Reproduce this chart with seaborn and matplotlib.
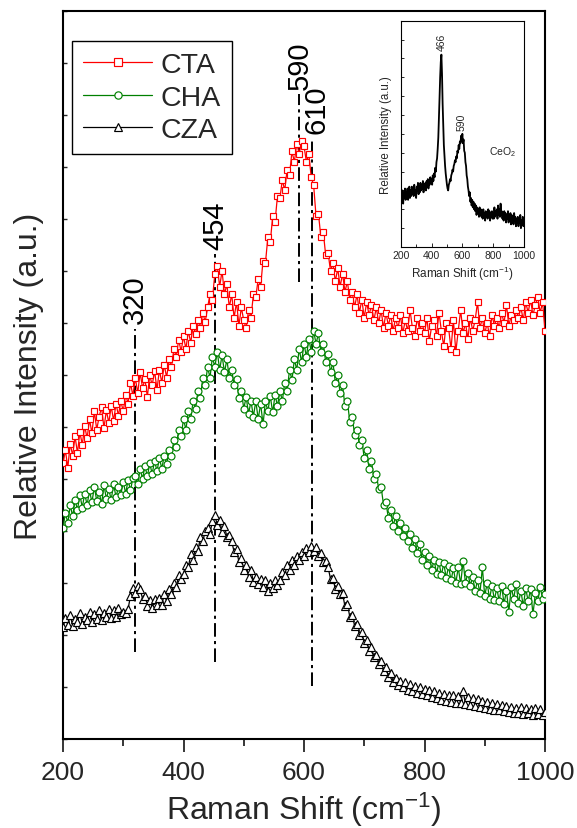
import matplotlib
matplotlib.use("Agg")
import matplotlib.pyplot as plt
import seaborn as sns
import numpy as np

# ---------------- data ----------------
shift = list(range(200, 1001, 4))  # Raman shift, cm^-1

cta = [5.30, 5.55, 5.22, 5.68, 5.45, 5.82, 5.50, 5.90, 5.66, 6.02,
       5.78, 6.15, 5.88, 6.30, 5.95, 6.20, 6.38, 5.98, 6.32, 6.08,
       6.40, 6.12, 6.45, 6.22, 6.50, 6.30, 6.62, 6.45, 6.85, 6.60,
       6.95, 6.65, 7.05, 6.75, 6.92, 6.58, 7.00, 6.80, 7.08, 6.72,
       7.10, 6.85, 7.20, 6.95, 7.30, 7.15, 7.50, 7.35, 7.68, 7.45,
       7.75, 7.50, 7.85, 7.62, 7.95, 7.78, 8.05, 7.90, 8.20, 8.02,
       8.30, 8.55, 8.45, 8.95, 9.10, 8.70, 9.00, 8.55, 8.75, 8.30,
       8.55, 8.10, 8.40, 7.95, 8.30, 8.05, 7.90, 8.25, 8.10, 8.55,
       8.50, 8.85, 8.70, 9.20, 9.15, 9.65, 9.55, 10.05, 9.95, 10.45,
       10.40, 10.75, 10.55, 10.95, 10.85, 11.30, 11.10, 11.45, 11.25, 11.50,
       11.40, 11.10, 11.25, 10.80, 10.65, 10.05, 10.10, 9.65, 9.75, 9.30,
       9.35, 9.00, 9.15, 8.80, 9.05, 8.70, 8.95, 8.60, 8.80, 8.45,
       8.60, 8.30, 8.55, 8.20, 8.45, 8.10, 8.40, 8.15, 8.35, 8.05,
       8.30, 8.00, 8.25, 7.90, 8.20, 7.95, 8.15, 7.85, 8.10, 7.90,
       8.15, 7.80, 8.05, 7.85, 8.25, 7.90, 7.75, 8.10, 7.85, 8.00,
       7.80, 8.10, 7.65, 7.95, 8.05, 7.75, 8.20, 7.85, 7.55, 8.00,
       7.90, 7.50, 8.05, 7.45, 7.85, 8.25, 7.80, 8.00, 7.70, 8.10,
       7.85, 8.05, 8.40, 7.90, 8.10, 7.80, 8.00, 7.75, 8.15, 7.95,
       8.10, 7.90, 8.20, 8.00, 8.35, 7.95, 8.15, 8.05, 8.25, 8.10,
       8.30, 8.05, 8.40, 8.20, 8.45, 8.15, 8.35, 8.50, 8.20, 8.40,
       7.85]

cha = [4.05, 4.35, 4.15, 4.50, 4.28, 4.60, 4.40, 4.70, 4.45, 4.72,
       4.50, 4.78, 4.55, 4.85, 4.58, 4.75, 4.52, 4.88, 4.62, 4.80,
       4.60, 4.90, 4.65, 4.85, 4.70, 4.95, 4.72, 4.98, 4.78, 5.02,
       5.05, 4.90, 5.20, 5.00, 5.25, 5.05, 5.30, 5.10, 5.35, 5.15,
       5.40, 5.20, 5.45, 5.28, 5.55, 5.45, 5.75, 5.62, 5.95, 5.82,
       6.15, 5.95, 6.30, 6.15, 6.50, 6.35, 6.70, 6.55, 6.95, 6.80,
       7.15, 6.95, 7.35, 7.15, 7.45, 7.10, 7.38, 7.05, 7.30, 6.95,
       7.10, 6.80, 6.92, 6.55, 6.70, 6.35, 6.58, 6.25, 6.50, 6.20,
       6.50, 6.15, 6.45, 6.05, 6.50, 6.30, 6.60, 6.28, 6.62, 6.40,
       6.70, 6.50, 6.85, 6.70, 7.10, 6.90, 7.30, 7.10, 7.50, 7.25,
       7.60, 7.35, 7.70, 7.45, 7.85, 7.60, 7.80, 7.45, 7.60, 7.25,
       7.40, 7.05, 7.25, 6.85, 7.00, 6.65, 6.80, 6.40, 6.50, 6.10,
       6.20, 5.85, 5.95, 5.65, 5.75, 5.40, 5.55, 5.20, 5.35, 5.00,
       5.10, 4.80, 4.85, 4.50, 4.55, 4.25, 4.40, 4.10, 4.28, 4.00,
       4.15, 3.90, 4.05, 3.80, 3.95, 3.68, 3.85, 3.58, 3.75, 3.45,
       3.60, 3.35, 3.52, 3.25, 3.45, 3.18, 3.40, 3.15, 3.38, 3.10,
       3.32, 3.05, 3.28, 3.00, 3.30, 2.98, 3.42, 3.00, 3.20, 2.95,
       3.12, 2.85, 3.05, 2.80, 3.30, 2.75, 3.00, 2.70, 2.95, 2.68,
       2.90, 2.65, 2.95, 2.60, 2.85, 2.45, 2.92, 2.70, 2.98, 2.62,
       2.85, 2.55, 2.90, 2.65, 2.88, 2.40, 2.80, 2.65, 2.92, 2.70,
       2.78]

cza = [2.15, 2.32, 2.20, 2.38, 2.18, 2.30, 2.25, 2.42, 2.22, 2.35,
       2.28, 2.45, 2.25, 2.40, 2.30, 2.48, 2.28, 2.42, 2.35, 2.50,
       2.32, 2.48, 2.35, 2.52, 2.40, 2.45, 2.42, 2.50, 2.75, 2.90,
       2.80, 2.95, 2.88, 2.70, 2.75, 2.55, 2.68, 2.52, 2.70, 2.58,
       2.72, 2.58, 2.78, 2.65, 2.88, 2.78, 3.00, 2.92, 3.15, 3.08,
       3.18, 3.35, 3.30, 3.55, 3.45, 3.70, 3.62, 3.88, 3.80, 4.00,
       4.05, 3.95, 4.20, 4.30, 4.12, 4.22, 3.98, 4.10, 3.88, 3.92,
       3.80, 3.60, 3.65, 3.40, 3.48, 3.25, 3.35, 3.12, 3.25, 3.02,
       3.12, 2.98, 3.08, 2.92, 3.05, 2.85, 3.00, 2.90, 3.06, 2.96,
       3.05, 3.22, 3.15, 3.35, 3.25, 3.45, 3.35, 3.52, 3.45, 3.60,
       3.52, 3.68, 3.60, 3.72, 3.62, 3.70, 3.52, 3.58, 3.40, 3.42,
       3.30, 3.08, 3.10, 2.88, 2.95, 2.78, 2.80, 2.55, 2.60, 2.35,
       2.38, 2.18, 2.22, 2.00, 2.05, 1.85, 1.90, 1.70, 1.76, 1.58,
       1.62, 1.45, 1.50, 1.30, 1.38, 1.20, 1.26, 1.10, 1.18, 1.04,
       1.12, 1.00, 1.10, 0.95, 1.06, 0.92, 1.02, 0.88, 1.00, 0.86,
       0.96, 0.84, 0.94, 0.80, 0.92, 0.78, 0.88, 0.75, 0.86, 0.74,
       0.85, 0.72, 0.84, 0.70, 0.82, 0.70, 0.92, 0.68, 0.80, 0.66,
       0.78, 0.64, 0.76, 0.62, 0.74, 0.60, 0.72, 0.58, 0.70, 0.56,
       0.68, 0.55, 0.66, 0.54, 0.64, 0.52, 0.62, 0.50, 0.60, 0.50,
       0.62, 0.48, 0.60, 0.50, 0.58, 0.47, 0.60, 0.48, 0.57, 0.46,
       0.52]

ceo2 = [2.4, 2.9, 2.5, 3.0, 2.3, 2.8, 2.6, 3.1, 2.5, 2.9,
        2.7, 3.1, 2.5, 2.9, 3.2, 2.6, 3.0, 2.7, 3.2, 2.8,
        3.1, 2.7, 3.3, 2.9, 3.0, 2.6, 3.2, 3.0, 3.4, 2.8,
        3.2, 2.9, 3.4, 3.0, 3.3, 3.1, 3.5, 2.9, 3.3, 3.1,
        3.4, 3.0, 3.5, 3.2, 3.6, 3.1, 3.4, 3.3, 3.7, 3.4,
        3.6, 3.3, 3.8, 3.5, 3.9, 3.7, 4.2, 4.0, 4.5, 4.7,
        5.2, 5.8, 6.8, 7.9, 9.0, 9.8, 10.2, 9.2, 7.6, 6.4,
        5.4, 4.8, 4.3, 3.9, 3.6, 3.3, 3.1, 3.0, 3.3, 3.4,
        3.6, 3.5, 3.8, 3.9, 4.1, 4.0, 4.3, 4.4, 4.6, 4.5,
        4.8, 4.7, 5.1, 5.0, 5.4, 5.2, 5.6, 5.5, 5.9, 5.6,
        6.0, 5.5, 5.7, 5.1, 5.0, 4.5, 4.3, 3.8, 3.6, 3.2,
        3.0, 2.7, 2.9, 2.4, 2.6, 2.2, 2.5, 2.1, 2.4, 2.0,
        2.3, 1.9, 2.2, 1.7, 2.1, 1.8, 2.0, 1.6, 2.1, 1.7,
        2.0, 1.6, 1.9, 1.5, 2.0, 1.7, 1.8, 1.4, 1.9, 1.6,
        1.8, 1.5, 2.0, 1.6, 1.9, 1.4, 1.8, 1.6, 1.9, 1.5,
        1.8, 1.5, 2.1, 1.6, 1.9, 1.7, 2.0, 1.5, 2.2, 1.7,
        2.0, 1.6, 2.3, 1.7, 1.9, 1.5, 1.8, 1.4, 1.9, 1.5,
        1.8, 1.3, 1.7, 1.5, 1.9, 1.3, 1.7, 1.4, 1.8, 1.2,
        1.7, 1.3, 1.6, 1.2, 1.8, 1.4, 1.6, 1.1, 1.5, 1.3,
        1.6, 1.1, 1.5, 1.3, 1.7, 1.0, 1.4, 1.2, 1.6, 1.1,
        1.4]

series_names = ["CTA", "CHA", "CZA"]
series_colors = ["#ff0000", "#008000", "#000000"]
series_markers = ["s", "o", "^"]

# peak guide lines
peak_labels = ["320", "454", "590", "610"]
peak_pos = [320, 453, 592, 614]
peak_text_x = [320, 453, 593, 620]
peak_ymin = [1.67, 1.48, 8.79, 1.02]
peak_ymax = [7.88, 9.33, 12.40, 11.54]
peak_text_y = [8.00, 9.42, 12.50, 11.65]

inset_peaks = ["466", "590"]
inset_peak_x = [466, 592]
inset_peak_y = [10.45, 6.2]

# ---------------- style ----------------
sns.set_style("ticks")
plt.rcParams["font.family"] = ["Liberation Sans", "DejaVu Sans"]
plt.rcParams["mathtext.fontset"] = "custom"
plt.rcParams["mathtext.rm"] = "Liberation Sans"
plt.rcParams["mathtext.it"] = "Liberation Sans:italic"

fig = plt.figure(figsize=(5.77, 8.29), dpi=100)
ax = fig.add_axes([63 / 577, 1 - 740 / 829, 482 / 577, 728 / 829])

series = [cta, cha, cza]
for name, vals, col, mk in zip(series_names, series, series_colors, series_markers):
    sns.lineplot(x=shift, y=vals, ax=ax, color=col, linewidth=0.9,
                 marker=mk, markersize=5.0 if mk != "^" else 5.4,
                 markerfacecolor="white", markeredgecolor=col,
                 markeredgewidth=0.85, label=name, zorder=3,
                 estimator=None, sort=False)

dash = (0, (7, 2.2, 1.6, 2.2))
for lab, xp, xt, y0, y1, yt in zip(peak_labels, peak_pos, peak_text_x,
                                     peak_ymin, peak_ymax, peak_text_y):
    ax.plot([xp, xp], [y0, y1], color="black", lw=1.4, linestyle=dash, zorder=2)
    ax.text(xt, yt, lab, rotation=90, ha="center", va="bottom",
            fontsize=21, color="black", zorder=4)

ax.set_xlim(200, 1000)
ax.set_ylim(0, 14)
ax.set_xticks([200, 400, 600, 800, 1000])
ax.set_xticks([300, 500, 700, 900], minor=True)
ax.set_yticks(np.arange(0, 15, 1))
ax.set_yticklabels([])
ax.tick_params(axis="x", which="major", direction="out", length=9, width=1.3,
               labelsize=19, pad=6)
ax.tick_params(axis="x", which="minor", direction="out", length=5, width=1.3)
ax.tick_params(axis="y", which="major", direction="in", length=3, width=1.0,
               left=True, right=False)
for sp in ax.spines.values():
    sp.set_visible(True)
    sp.set_linewidth(1.5)
    sp.set_color("black")
ax.set_xlabel("Raman Shift (cm$^{-1}$)", fontsize=23, labelpad=4)
ax.set_ylabel("Relative Intensity (a.u.)", fontsize=23, labelpad=10)

leg = ax.legend(loc="upper left", bbox_to_anchor=(0.0187, 0.9588),
                borderaxespad=0, fancybox=False, framealpha=1,
                edgecolor="black", fontsize=20.5, handlelength=2.4,
                handletextpad=0.3, labelspacing=0.22, borderpad=0.4,
                markerscale=1.05)
leg.get_frame().set_linewidth(1.0)

# ---------------- inset ----------------
axi = fig.add_axes([400.7 / 577, 1 - 248 / 829, 123.3 / 577, 226.3 / 829])
sns.lineplot(x=shift, y=ceo2, ax=axi, color="black", linewidth=1.3,
             estimator=None, sort=False)
axi.set_xlim(200, 1000)
axi.set_ylim(0, 12)
axi.set_xticks([200, 400, 600, 800, 1000])
axi.set_xticks([300, 500, 700, 900], minor=True)
axi.set_yticks(np.arange(0, 13, 1))
axi.set_yticklabels([])
axi.tick_params(axis="x", which="major", direction="in", length=3, width=0.7,
                labelsize=7.5, pad=2)
axi.tick_params(axis="x", which="minor", direction="in", length=2, width=0.7)
axi.tick_params(axis="y", direction="in", length=2, width=0.7)
for sp in axi.spines.values():
    sp.set_visible(True)
    sp.set_linewidth(0.8)
    sp.set_color("black")
axi.set_xlabel("Raman Shift (cm$^{-1}$)", fontsize=8.5, labelpad=3)
axi.set_ylabel("Relative Intensity (a.u.)", fontsize=8.3, labelpad=3)
for lab, xp, yp in zip(inset_peaks, inset_peak_x, inset_peak_y):
    axi.text(xp, yp, lab, rotation=90, ha="center", va="bottom", fontsize=7.5)
axi.text(770, 5.1, "CeO$_2$", ha="left", va="center", fontsize=7.5)

fig.savefig("out.png", dpi=100)
